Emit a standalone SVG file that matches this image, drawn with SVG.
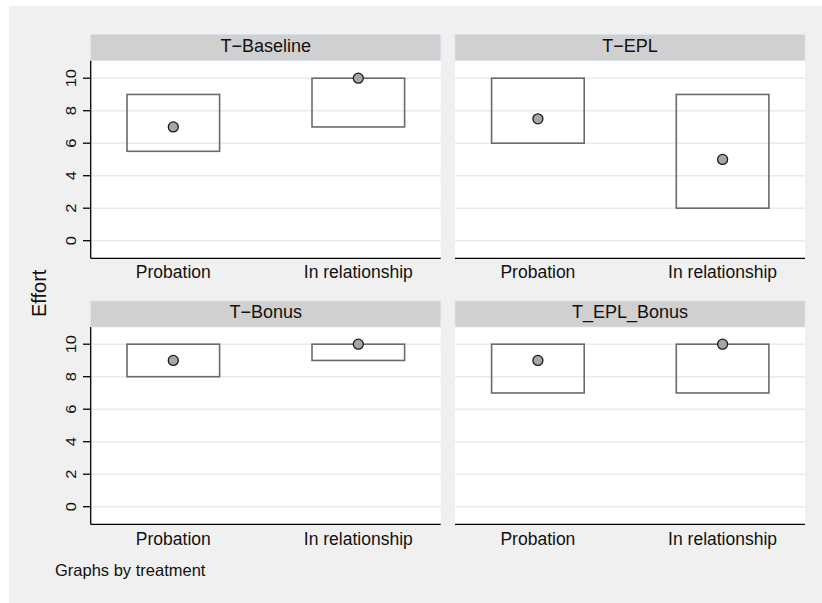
<svg xmlns="http://www.w3.org/2000/svg" width="822" height="603" viewBox="0 0 822 603">
<style>
text{font-family:"Liberation Sans",Arial,sans-serif;fill:#111}
.hdr{fill:#d0d0d0;stroke:#dbe1ec;stroke-width:1}
.plot{fill:#fff}
.grid{stroke:#eaeaea;stroke-width:1.5}
.axis{stroke:#000;stroke-width:1.3;fill:none}
.box{fill:none;stroke:#6a6a6a;stroke-width:1.6}
.dot{fill:#a6a6a6;stroke:#1a1a1a;stroke-width:1.3}
.ht{font-size:18px;text-anchor:middle}
.cat{font-size:17.5px;text-anchor:middle}
.tick{font-size:16.5px;text-anchor:middle}
</style>
<defs>
<g id="gridTop">
<line class="grid" x1="0" y1="78.2" x2="350" y2="78.2"/>
<line class="grid" x1="0" y1="110.7" x2="350" y2="110.7"/>
<line class="grid" x1="0" y1="143.2" x2="350" y2="143.2"/>
<line class="grid" x1="0" y1="175.7" x2="350" y2="175.7"/>
<line class="grid" x1="0" y1="208.2" x2="350" y2="208.2"/>
<line class="grid" x1="0" y1="240.7" x2="350" y2="240.7"/>
</g>
</defs>
<rect x="0" y="0" width="822" height="603" fill="#fff"/>
<rect x="9" y="6" width="813" height="597" fill="#f0f0f0"/>

<g id="panel-t-baseline">
<rect class="hdr" x="90.7" y="34.5" width="350" height="26"/>
<text class="ht" x="265.7" y="51.7">T−Baseline</text>
<rect class="plot" x="90.7" y="61" width="350" height="197.3"/>
<use href="#gridTop" x="90.7" y="0"/>
<line class="axis" x1="90.7" y1="258.3" x2="440.7" y2="258.3"/>
<line class="axis" x1="90.7" y1="60.7" x2="90.7" y2="258.3"/>
<g class="axis">
<line x1="83" y1="78.2" x2="90.7" y2="78.2"/>
<line x1="83" y1="110.7" x2="90.7" y2="110.7"/>
<line x1="83" y1="143.2" x2="90.7" y2="143.2"/>
<line x1="83" y1="175.7" x2="90.7" y2="175.7"/>
<line x1="83" y1="208.2" x2="90.7" y2="208.2"/>
<line x1="83" y1="240.7" x2="90.7" y2="240.7"/>
</g>
<text class="tick" transform="translate(75.8,78.2) rotate(-90) scale(1,0.85)">10</text>
<text class="tick" transform="translate(75.8,110.7) rotate(-90) scale(1,0.85)">8</text>
<text class="tick" transform="translate(75.8,143.2) rotate(-90) scale(1,0.85)">6</text>
<text class="tick" transform="translate(75.8,175.7) rotate(-90) scale(1,0.85)">4</text>
<text class="tick" transform="translate(75.8,208.2) rotate(-90) scale(1,0.85)">2</text>
<text class="tick" transform="translate(75.8,240.7) rotate(-90) scale(1,0.85)">0</text>
<rect class="box" x="127" y="94.45" width="92.6" height="56.85"/>
<circle class="dot" cx="173.3" cy="126.95" r="5"/>
<rect class="box" x="312" y="78.2" width="92.6" height="48.75"/>
<circle class="dot" cx="358.3" cy="78.2" r="5"/>
<text class="cat" x="173.3" y="278.3">Probation</text>
<text class="cat" x="358.3" y="278.3">In relationship</text>
</g>

<g id="panel-t-epl">
<rect class="hdr" x="455" y="34.5" width="350" height="26"/>
<text class="ht" x="630" y="51.7">T−EPL</text>
<rect class="plot" x="455" y="61" width="350" height="197.3"/>
<use href="#gridTop" x="455" y="0"/>
<line class="axis" x1="455" y1="258.3" x2="805" y2="258.3"/>
<rect class="box" x="491.6" y="78.2" width="92.6" height="65"/>
<circle class="dot" cx="537.9" cy="118.8" r="5"/>
<rect class="box" x="676.3" y="94.45" width="92.6" height="113.75"/>
<circle class="dot" cx="722.6" cy="159.45" r="5"/>
<text class="cat" x="537.9" y="278.3">Probation</text>
<text class="cat" x="722.6" y="278.3">In relationship</text>
</g>

<g id="panel-t-bonus">
<rect class="hdr" x="90.7" y="301" width="350" height="26"/>
<text class="ht" x="265.7" y="318.4">T−Bonus</text>
<rect class="plot" x="90.7" y="327.5" width="350" height="196.8"/>
<use href="#gridTop" x="90.7" y="266"/>
<line class="axis" x1="90.7" y1="524.3" x2="440.7" y2="524.3"/>
<line class="axis" x1="90.7" y1="327" x2="90.7" y2="524.3"/>
<g class="axis">
<line x1="83" y1="344.2" x2="90.7" y2="344.2"/>
<line x1="83" y1="376.7" x2="90.7" y2="376.7"/>
<line x1="83" y1="409.2" x2="90.7" y2="409.2"/>
<line x1="83" y1="441.7" x2="90.7" y2="441.7"/>
<line x1="83" y1="474.2" x2="90.7" y2="474.2"/>
<line x1="83" y1="506.7" x2="90.7" y2="506.7"/>
</g>
<text class="tick" transform="translate(75.8,344.2) rotate(-90) scale(1,0.85)">10</text>
<text class="tick" transform="translate(75.8,376.7) rotate(-90) scale(1,0.85)">8</text>
<text class="tick" transform="translate(75.8,409.2) rotate(-90) scale(1,0.85)">6</text>
<text class="tick" transform="translate(75.8,441.7) rotate(-90) scale(1,0.85)">4</text>
<text class="tick" transform="translate(75.8,474.2) rotate(-90) scale(1,0.85)">2</text>
<text class="tick" transform="translate(75.8,506.7) rotate(-90) scale(1,0.85)">0</text>
<rect class="box" x="127" y="344.2" width="92.6" height="32.5"/>
<circle class="dot" cx="173.3" cy="360.45" r="5"/>
<rect class="box" x="312" y="344.2" width="92.6" height="16.25"/>
<circle class="dot" cx="358.3" cy="344.2" r="5"/>
<text class="cat" x="173.3" y="544.5">Probation</text>
<text class="cat" x="358.3" y="544.5">In relationship</text>
</g>

<g id="panel-t-epl-bonus">
<rect class="hdr" x="455" y="301" width="350" height="26"/>
<text class="ht" x="630" y="318.4">T_EPL_Bonus</text>
<rect class="plot" x="455" y="327.5" width="350" height="196.8"/>
<use href="#gridTop" x="455" y="266"/>
<line class="axis" x1="455" y1="524.3" x2="805" y2="524.3"/>
<rect class="box" x="491.6" y="344.2" width="92.6" height="48.75"/>
<circle class="dot" cx="537.9" cy="360.45" r="5"/>
<rect class="box" x="676.3" y="344.2" width="92.6" height="48.75"/>
<circle class="dot" cx="722.6" cy="344.2" r="5"/>
<text class="cat" x="537.9" y="544.5">Probation</text>
<text class="cat" x="722.6" y="544.5">In relationship</text>
</g>

<g id="labels">
<text transform="translate(46,293.3) rotate(-90)" font-size="20" text-anchor="middle">Effort</text>
<text x="55" y="576" font-size="16.5">Graphs by treatment</text>
</g>
<g id="connectors"></g>
</svg>
